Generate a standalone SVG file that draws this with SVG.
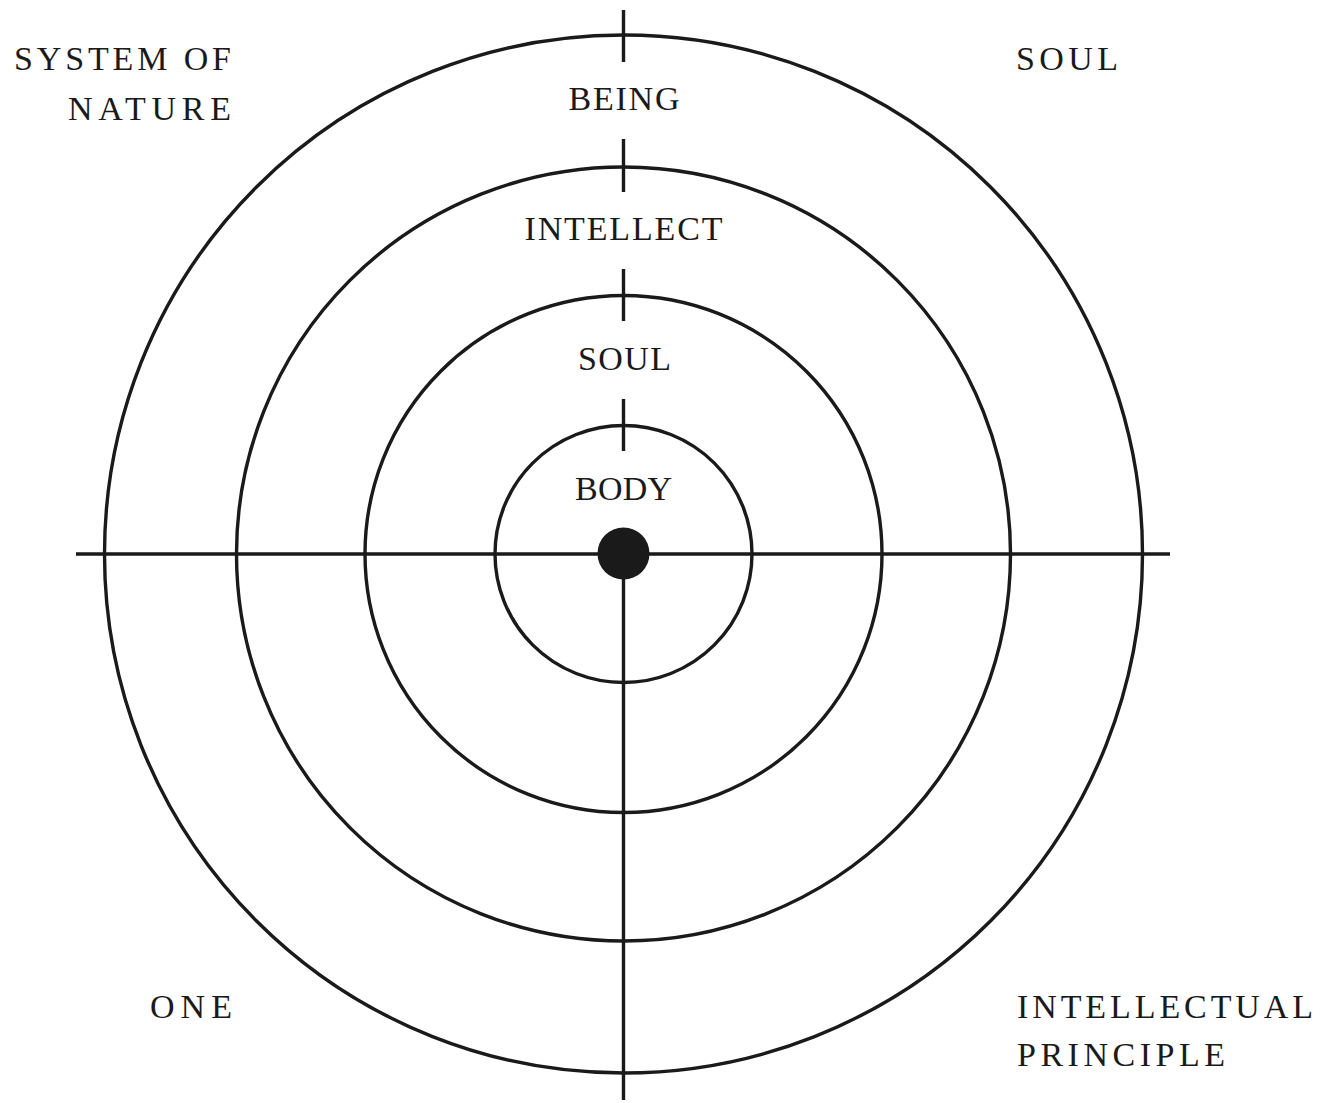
<svg xmlns="http://www.w3.org/2000/svg" width="1326" height="1103" viewBox="0 0 1326 1103">
<style>
.c{fill:none;stroke:#1a1a1a;stroke-width:3.4}
.l{stroke:#1a1a1a;stroke-width:3.4;fill:none}
.t{font-family:"Liberation Serif","Times New Roman",serif;font-size:34px;fill:#1a1a1a}
</style>
<rect width="1326" height="1103" fill="#ffffff"/>
<g id="ring-being"><circle class="c" cx="623.5" cy="554" r="519"/><line class="l" x1="623.5" y1="10" x2="623.5" y2="62"/></g>
<g id="ring-intellect"><circle class="c" cx="623.5" cy="554" r="387"/><line class="l" x1="623.5" y1="139" x2="623.5" y2="192"/></g>
<g id="ring-soul"><circle class="c" cx="623.5" cy="554" r="258.5"/><line class="l" x1="623.5" y1="269" x2="623.5" y2="321"/></g>
<g id="ring-body"><circle class="c" cx="623.5" cy="554" r="128.5"/><line class="l" x1="623.5" y1="399" x2="623.5" y2="451"/></g>
<g id="connectors">
<line class="l" x1="76" y1="554" x2="1170" y2="554"/>
<line class="l" x1="623.5" y1="554" x2="623.5" y2="1100"/>
</g>
<g id="center"><circle cx="623.5" cy="553.5" r="26" fill="#1a1a1a"/></g>
<g id="labels">
<text class="t" x="624" y="110" text-anchor="middle" textLength="111" lengthAdjust="spacing">BEING</text>
<text class="t" x="623.5" y="240" text-anchor="middle" textLength="198" lengthAdjust="spacing">INTELLECT</text>
<text class="t" x="624.5" y="370" text-anchor="middle" textLength="93" lengthAdjust="spacing">SOUL</text>
<text class="t" x="623.5" y="500" text-anchor="middle" textLength="97" lengthAdjust="spacing">BODY</text>
<text class="t" x="14" y="70" textLength="217" lengthAdjust="spacing">SYSTEM OF</text>
<text class="t" x="68" y="120" textLength="163" lengthAdjust="spacing">NATURE</text>
<text class="t" x="1016" y="70" textLength="102" lengthAdjust="spacing">SOUL</text>
<text class="t" x="150" y="1018" textLength="82" lengthAdjust="spacing">ONE</text>
<text class="t" x="1017" y="1018" textLength="296" lengthAdjust="spacing">INTELLECTUAL</text>
<text class="t" x="1017" y="1066" textLength="208" lengthAdjust="spacing">PRINCIPLE</text>
</g>
</svg>
